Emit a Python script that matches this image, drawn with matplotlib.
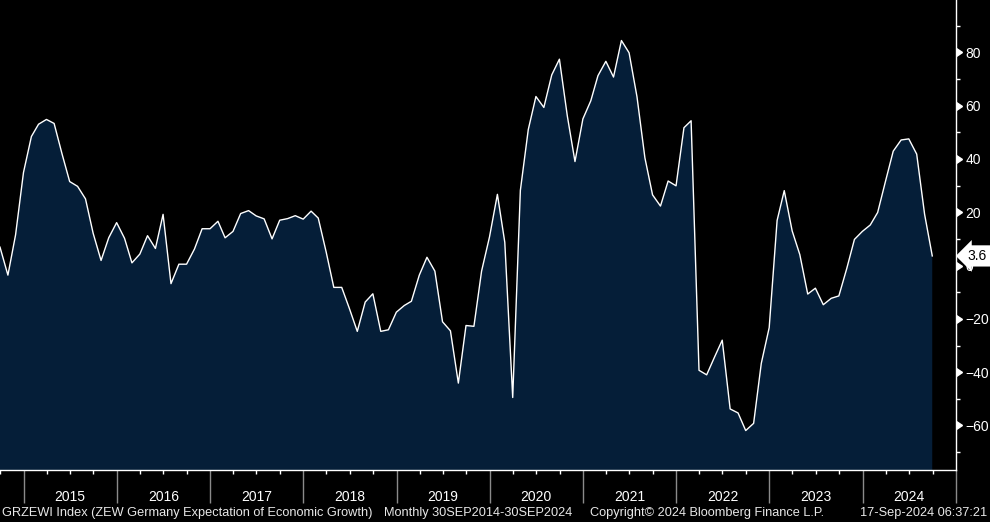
import numpy as np
import pandas as pd
import matplotlib
matplotlib.use("Agg")
import matplotlib.pyplot as plt
import matplotlib.dates as mdates
import matplotlib.markers as mmarkers
import matplotlib.transforms as mtransforms

# ZEW Germany Expectation of Economic Growth, monthly Sep 2014 - Sep 2024
dates = pd.date_range("2014-09-30", "2024-09-30", freq="ME")
zew = [
    6.9, -3.6, 11.5, 34.9,                                                   # 2014
    48.4, 53.0, 54.8, 53.3, 41.9, 31.5, 29.7, 25.0, 12.1, 1.9, 10.4, 16.1,   # 2015
    10.2, 1.0, 4.3, 11.2, 6.4, 19.2, -6.8, 0.5, 0.5, 6.2, 13.8, 13.8,        # 2016
    16.6, 10.4, 12.8, 19.5, 20.6, 18.6, 17.5, 10.0, 17.0, 17.6, 18.7, 17.4,  # 2017
    20.4, 17.8, 5.1, -8.2, -8.2, -16.1, -24.7, -13.7, -10.6, -24.7, -24.1, -17.5,  # 2018
    -15.0, -13.4, -3.6, 3.1, -2.1, -21.1, -24.5, -44.1, -22.5, -22.8, -2.1, 10.7,  # 2019
    26.7, 8.7, -49.5, 28.2, 51.0, 63.4, 59.3, 71.5, 77.4, 56.1, 39.0, 55.0,  # 2020
    61.8, 71.2, 76.6, 70.7, 84.4, 79.8, 63.3, 40.4, 26.5, 22.3, 31.7, 29.9,  # 2021
    51.7, 54.3, -39.3, -41.0, -34.3, -28.0, -53.8, -55.3, -61.9, -59.2, -36.7, -23.3,  # 2022
    16.9, 28.1, 13.0, 4.1, -10.7, -8.5, -14.7, -12.3, -11.4, -1.1, 9.8, 12.8,  # 2023
    15.2, 19.9, 31.7, 42.9, 47.1, 47.5, 41.8, 19.2, 3.6,                     # 2024
]
years = list(range(2015, 2025))
y_major = [-60, -40, -20, 0, 20, 40, 60, 80]

fill_col = "#051e38"
fs = 10
plt.rcParams["font.family"] = ["Liberation Sans", "DejaVu Sans"]

fig = plt.figure(figsize=(9.9, 5.22), dpi=100, facecolor="black")
ax = fig.add_axes([0, 52 / 522, 956 / 990, 470 / 522])
ax.set_facecolor("black")

ax.fill_between(dates, zew, -200, color=fill_col, lw=0)
ax.plot(dates, zew, color="white", lw=1.0)

ax.set_xlim(pd.Timestamp("2014-09-30"), pd.Timestamp("2025-01-01"))
ax.set_ylim(-76.7, 99.6)

for s in ["left", "top"]:
    ax.spines[s].set_visible(False)
for s in ["right", "bottom"]:
    ax.spines[s].set_color("white")
    ax.spines[s].set_linewidth(1.0)

# x axis: year separators and quarter ticks
ax.xaxis.set_major_locator(mdates.YearLocator())
ax.xaxis.set_minor_locator(mdates.MonthLocator(bymonth=[4, 7, 10]))
ax.tick_params(axis="x", which="major", length=24, width=1, color="#8a8a8a",
               labelbottom=False)
ax.tick_params(axis="x", which="minor", length=3, width=1, color="white",
               labelbottom=False)

xfig = mtransforms.blended_transform_factory(ax.transData, fig.transFigure)
for yr in years:
    ax.text(pd.Timestamp(f"{yr}-07-01"), (522 - 497) / 522, str(yr),
            transform=xfig, ha="center", va="center", color="white",
            fontsize=fs)

# y axis on the right
ax.yaxis.tick_right()
ax.set_yticks(y_major)
ax.set_yticks(np.arange(-70, 100, 10), minor=True)
ax.tick_params(axis="y", which="major", length=0, pad=7, labelcolor="white",
               labelsize=fs)
ax.tick_params(axis="y", which="minor", length=3, width=1, color="white")
yblend = mtransforms.blended_transform_factory(ax.transAxes, ax.transData)
ax.plot([1.0] * len(y_major), y_major, linestyle="none",
        marker=mmarkers.CARETRIGHTBASE, markersize=6, color="white",
        transform=yblend, clip_on=False)

# last value label
ax.text(1.012, zew[-1], f"{zew[-1]:.1f}", transform=yblend, ha="left",
        va="center", color="black", fontsize=fs, zorder=5,
        bbox=dict(boxstyle="larrow,pad=0.26", fc="white", ec="none"))

# footer
fy = (522 - 513) / 522
fc = "#e8e8e8"
ffs = 9.2
fig.text(2 / 990, fy, "GRZEWI Index (ZEW Germany Expectation of Economic Growth)",
         color=fc, fontsize=ffs, va="center", ha="left")
fig.text(384 / 990, fy, "Monthly 30SEP2014-30SEP2024", color=fc, fontsize=ffs,
         va="center", ha="left")
fig.text(590 / 990, fy, "Copyright\u00a9 2024 Bloomberg Finance L.P.", color=fc,
         fontsize=ffs, va="center", ha="left")
fig.text(987 / 990, fy, "17-Sep-2024 06:37:21", color=fc, fontsize=ffs,
         va="center", ha="right")

fig.savefig("out.png", dpi=100, facecolor="black")
